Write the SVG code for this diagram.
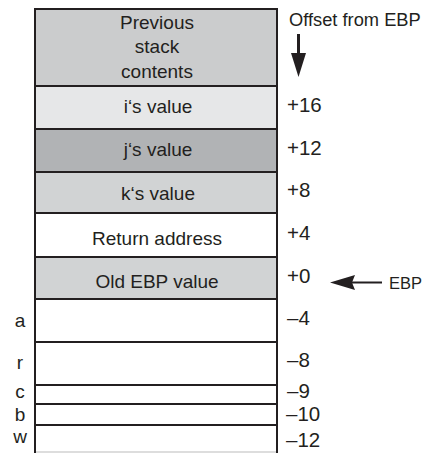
<svg xmlns="http://www.w3.org/2000/svg" width="426" height="453" viewBox="0 0 426 453">
  <style>
    text { font-family: "Liberation Sans", Arial, sans-serif; font-size: 19px; fill: #231f20; }
    .c { text-anchor: middle; }
    .off { font-size: 20.5px; }
    .hdr { font-size: 18.3px; }
    .ebp { font-size: 16.5px; }
    .cell { stroke: #231f20; stroke-width: 2; }
    .sep { stroke: #231f20; stroke-width: 2; fill: none; }
  </style>

  <g id="stack">
    <g id="prev">
      <rect class="cell" x="35" y="9" width="242" height="77" fill="#cbcccd"/>
      <text class="c" x="157" y="29">Previous</text>
      <text class="c" x="157" y="53">stack</text>
      <text class="c" x="157" y="78">contents</text>
    </g>
    <g id="i">
      <rect class="cell" x="35" y="86" width="242" height="43" fill="#e6e7e8"/>
      <text class="c" x="158" y="113">i‘s value</text>
    </g>
    <g id="j">
      <rect class="cell" x="35" y="129" width="242" height="43" fill="#b1b3b5"/>
      <text class="c" x="158" y="156">j‘s value</text>
    </g>
    <g id="k">
      <rect class="cell" x="35" y="172" width="242" height="41" fill="#d1d3d4"/>
      <text class="c" x="158" y="200">k‘s value</text>
    </g>
    <g id="ret">
      <rect class="cell" x="35" y="213" width="242" height="44" fill="#ffffff"/>
      <text class="c" x="157" y="245">Return address</text>
    </g>
    <g id="oldebp">
      <rect class="cell" x="35" y="257" width="242" height="42" fill="#d1d3d4"/>
      <text class="c" x="157" y="288">Old EBP value</text>
    </g>
    <g id="a">
      <rect class="cell" x="35" y="299" width="242" height="43" fill="#ffffff"/>
      <text class="c" x="20" y="327">a</text>
    </g>
    <g id="r">
      <rect class="cell" x="35" y="342" width="242" height="43" fill="#ffffff"/>
      <text class="c" x="20" y="369">r</text>
    </g>
    <g id="c">
      <rect class="cell" x="35" y="385" width="242" height="19" fill="#ffffff"/>
      <text class="c" x="20" y="398">c</text>
    </g>
    <g id="b">
      <rect class="cell" x="35" y="404" width="242" height="21" fill="#ffffff"/>
      <text class="c" x="20" y="421">b</text>
    </g>
    <g id="w">
      <path class="sep" d="M35,425 H277 M35,424 V453 M277,424 V453"/>
      <path d="M36,452 H276" stroke="#bbbbbb" stroke-width="1"/>
      <text class="c" x="20" y="443">w</text>
    </g>
  </g>

  <g id="offsets">
    <text class="hdr" x="289" y="26">Offset from EBP</text>
    <text class="off" x="287" y="112">+16</text>
    <text class="off" x="287" y="155">+12</text>
    <text class="off" x="287" y="197">+8</text>
    <text class="off" x="287" y="240">+4</text>
    <text class="off" x="287" y="283">+0</text>
    <text class="off" x="287" y="325">–4</text>
    <text class="off" x="287" y="367">–8</text>
    <text class="off" x="287" y="398">–9</text>
    <text class="off" x="286" y="421">–10</text>
    <text class="off" x="286" y="447">–12</text>
    <text class="ebp" x="389" y="289">EBP</text>
  </g>

  <g id="connectors">
    <path d="M298.5,34 V55" stroke="#231f20" stroke-width="3"/>
    <path d="M291,53 L306,53 L298.5,77 Z" fill="#231f20"/>
    <path d="M382,282.5 H350" stroke="#231f20" stroke-width="2"/>
    <path d="M330,282.5 L355,275 L352,282.5 L355,290 Z" fill="#231f20"/>
  </g>
</svg>
